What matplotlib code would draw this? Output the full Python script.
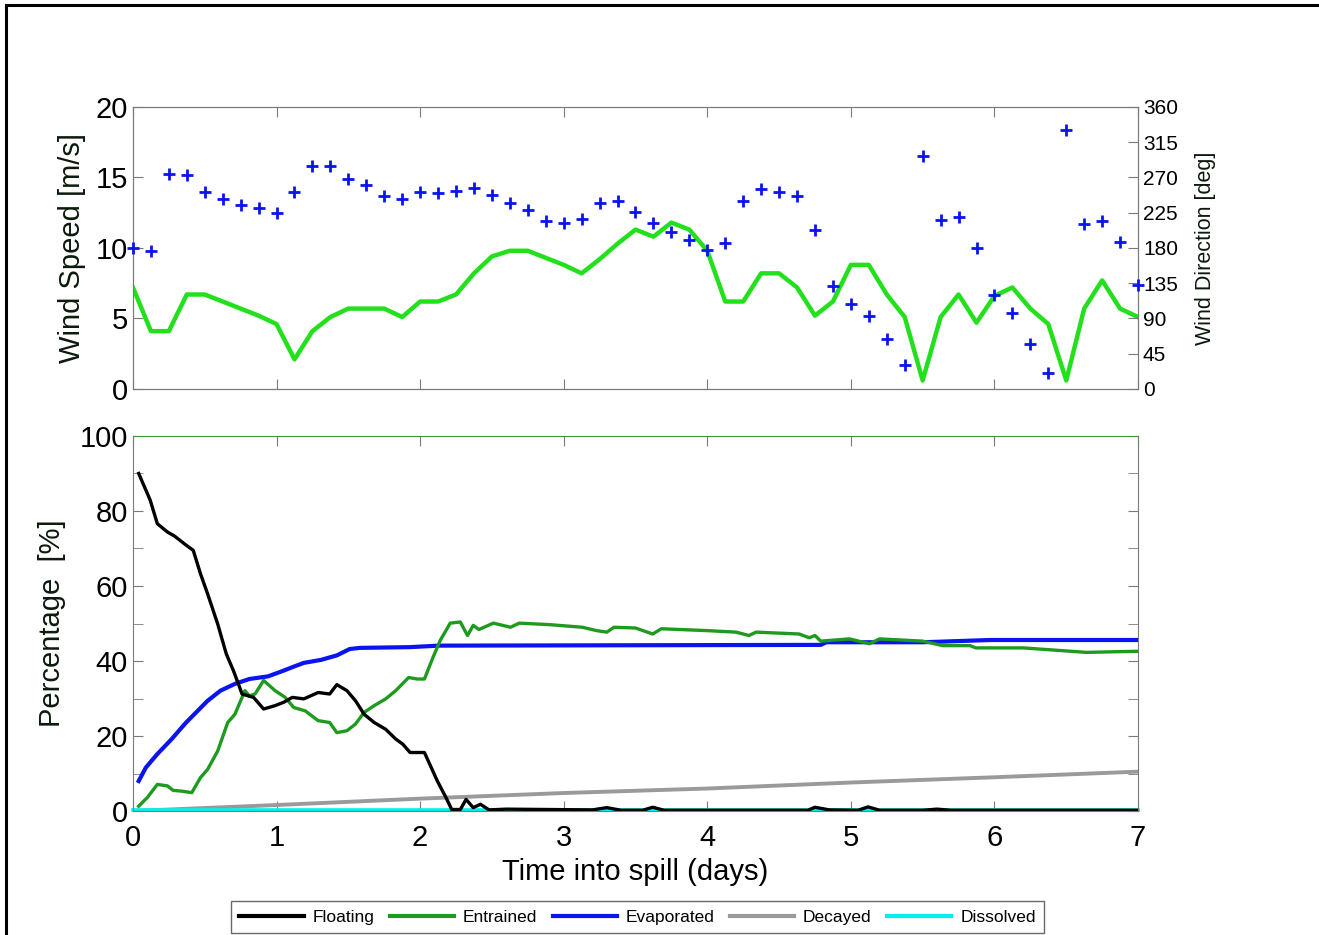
import matplotlib
matplotlib.use("Agg")
import matplotlib.pyplot as plt
from matplotlib.lines import Line2D
import numpy as np

plt.rcParams['font.family'] = ['Liberation Sans', 'DejaVu Sans']

# wind, 3-hourly
wind_t = np.arange(57) * 0.125
wind_speed = [7.2, 4.1, 4.1, 6.7, 6.7, 6.2, 5.7, 5.2, 4.6, 2.1, 4.1, 5.1, 5.7, 5.7, 5.7,
              5.1, 6.2, 6.2, 6.7, 8.2, 9.4, 9.8, 9.8, 9.3, 8.8, 8.2, 9.2, 10.3, 11.3, 10.8,
              11.8, 11.3, 9.8, 6.2, 6.2, 8.2, 8.2, 7.2, 5.2, 6.2, 8.8, 8.8, 6.7, 5.1, 0.6,
              5.1, 6.7, 4.7, 6.6, 7.2, 5.7, 4.6, 0.6, 5.7, 7.7, 5.7, 5.1]
wind_dir = [180, 176, 274, 273, 251, 242, 235, 231, 224, 252, 285, 284, 268, 261, 246,
            242, 252, 250, 253, 257, 248, 238, 228, 214, 212, 217, 237, 240, 226, 212,
            200, 190, 177, 186, 240, 255, 252, 246, 203, 132, 109, 93, 64, 31, 297,
            216, 219, 180, 120, 97, 58, 21, 330, 210, 214, 188, 133]

# oil budget
float_t = [0.04, 0.12, 0.17, 0.24, 0.29, 0.37, 0.42, 0.47, 0.52, 0.59, 0.65, 0.70, 0.76, 0.84,
           0.91, 0.99, 1.05, 1.11, 1.19, 1.29, 1.37, 1.42, 1.49, 1.55, 1.61, 1.68, 1.76, 1.83,
           1.88, 1.93, 2.03, 2.12, 2.18, 2.22, 2.28, 2.32, 2.37, 2.42, 2.48, 2.6, 3.2, 3.3,
           3.4, 3.55, 3.62, 3.7, 4.7, 4.75, 4.85, 5.05, 5.12, 5.2, 5.5, 5.6, 5.7, 7.0]
floating = [90.0, 82.9, 76.6, 74.4, 73.3, 70.9, 69.5, 63.3, 57.9, 49.9, 41.9, 37.4, 31.2, 30.3,
            27.2, 28.1, 29.0, 30.3, 29.9, 31.6, 31.2, 33.7, 32.1, 29.4, 25.8, 23.6, 21.8, 19.2,
            17.8, 15.6, 15.6, 8.0, 3.6, 0.4, 0.4, 3.1, 0.9, 1.8, 0.3, 0.5, 0.3, 0.9,
            0.2, 0.2, 1.0, 0.2, 0.2, 1.0, 0.3, 0.2, 1.1, 0.2, 0.2, 0.5, 0.2, 0.2]

entr_t = [0.04, 0.10, 0.17, 0.24, 0.28, 0.34, 0.41, 0.47, 0.52, 0.59, 0.66, 0.71, 0.78, 0.81,
          0.85, 0.91, 0.99, 1.06, 1.12, 1.20, 1.29, 1.37, 1.42, 1.49, 1.55, 1.61, 1.68, 1.76,
          1.83, 1.92, 1.98, 2.03, 2.09, 2.14, 2.21, 2.28, 2.33, 2.37, 2.41, 2.51, 2.63, 2.69,
          2.90, 3.13, 3.23, 3.30, 3.35, 3.50, 3.62, 3.68, 4.0, 4.2, 4.29, 4.34, 4.64, 4.71,
          4.75, 4.79, 4.99, 5.13, 5.2, 5.5, 5.64, 5.83, 5.87, 6.2, 6.64, 7.0]
entrained = [1.3, 3.6, 7.1, 6.7, 5.5, 5.3, 4.9, 8.9, 11.1, 16.0, 23.6, 25.8, 32.1, 30.7,
             31.2, 34.8, 32.1, 30.3, 27.6, 26.7, 24.1, 23.6, 20.9, 21.4, 23.2, 26.3, 28.1, 29.9,
             32.1, 35.6, 35.2, 35.2, 41.0, 45.5, 50.1, 50.4, 46.8, 49.5, 48.4, 50.1, 49.0, 50.1,
             49.7, 49.0, 48.1, 47.7, 49.0, 48.8, 47.2, 48.6, 48.1, 47.7, 46.8, 47.7, 47.2, 46.2,
             46.8, 45.3, 45.9, 44.6, 45.9, 45.3, 44.1, 44.1, 43.5, 43.5, 42.3, 42.6]

evap_t = [0.04, 0.09, 0.17, 0.27, 0.37, 0.44, 0.52, 0.61, 0.71, 0.81, 0.94, 1.04, 1.12,
          1.19, 1.31, 1.42, 1.51, 1.58, 1.93, 2.13, 4.79, 4.83, 5.5, 5.97, 7.0]
evaporated = [8.0, 11.6, 15.2, 19.2, 23.6, 26.3, 29.4, 32.1, 33.9, 35.2, 35.9, 37.3, 38.5,
              39.5, 40.3, 41.5, 43.2, 43.5, 43.7, 44.1, 44.3, 45.0, 45.0, 45.6, 45.6]

day_t = [0, 1, 2, 3, 4, 5, 6, 7]
decayed = [0, 1.6, 3.3, 4.8, 6.0, 7.6, 9.0, 10.5]
dissolved = [0.15, 0.15, 0.15, 0.15, 0.15, 0.15, 0.15, 0.15]

spine_c = '#7a7a7a'
txt_c = '#0c1a0c'

fig = plt.figure(figsize=(13.19, 9.35), dpi=100)

# ---- wind panel ----
ax1 = fig.add_axes([0.1008, 0.584, 0.762, 0.3016])
ax1.plot(wind_t, wind_speed, color='#22e01c', lw=3.2, zorder=3)
ax1.set_xlim(0, 7)
ax1.set_ylim(0, 20)
ax1.set_yticks([0, 5, 10, 15, 20])
ax1.set_xticks(range(8))
ax1.set_xticklabels([])
ax1.tick_params(direction='in', length=7, top=True, labelsize=21, colors=spine_c,
                labelcolor='black')
ax1.tick_params(axis='y', right=False)
ax1.set_ylabel('Wind Speed [m/s]', fontsize=21, color=txt_c, labelpad=7)
for s in ax1.spines.values():
    s.set_color(spine_c)

ax2 = ax1.twinx()
ax2.plot(wind_t, wind_dir, '+', color='#0a14f0', ms=8.5, mew=2, clip_on=False, zorder=4)
ax2.set_ylim(0, 360)
ax2.set_yticks(np.arange(0, 361, 45))
ax2.tick_params(direction='in', length=7, labelsize=15, colors=spine_c, labelcolor='black')
ax2.set_ylabel('Wind Direction [deg]', fontsize=15.5, color=txt_c, labelpad=12)
for s in ax2.spines.values():
    s.set_color(spine_c)

# ---- oil budget panel ----
ax3 = fig.add_axes([0.1008, 0.1326, 0.762, 0.4011])
ax3.plot(day_t, decayed, color='#9a9a9a', lw=2.8, label='Decayed', zorder=2)
ax3.plot(day_t, dissolved, color='#00f0f0', lw=2.6, label='Dissolved', zorder=2, clip_on=False)
ax3.plot(evap_t, evaporated, color='#0a14f0', lw=3.0, label='Evaporated', zorder=3)
ax3.plot(entr_t, entrained, color='#1e9a1e', lw=2.4, label='Entrained', zorder=4)
ax3.plot(float_t, floating, color='black', lw=2.4, label='Floating', zorder=5)
ax3.set_xlim(0, 7)
ax3.set_ylim(0, 100)
ax3.set_xticks(range(8))
ax3.set_yticks(range(0, 101, 20))
ax3.set_yticks(range(10, 100, 20), minor=True)
ax3.tick_params(which='both', direction='in', length=7, top=True, right=True,
                labelsize=21, colors=spine_c, labelcolor='black')
ax3.tick_params(axis='x', pad=9)
ax3.set_xlabel('Time into spill (days)', fontsize=21, color='black', labelpad=5)
ax3.set_ylabel('Percentage  [%]', fontsize=21, color=txt_c, labelpad=10)
for s in ax3.spines.values():
    s.set_color(spine_c)
ax3.spines['top'].set_color('#3a9a3a')

handles = [Line2D([], [], color='black', lw=3),
           Line2D([], [], color='#1e9a1e', lw=3),
           Line2D([], [], color='#0a14f0', lw=3),
           Line2D([], [], color='#9a9a9a', lw=3),
           Line2D([], [], color='#00f0f0', lw=3)]
labels = ['Floating', 'Entrained', 'Evaporated', 'Decayed', 'Dissolved']
leg = fig.legend(handles, labels, loc='upper center', bbox_to_anchor=(0.4833, 0.0364),
                 ncol=5, fontsize=12.5, frameon=True, fancybox=False, handlelength=3.7,
                 handletextpad=0.5, columnspacing=0.9, borderpad=0.5, borderaxespad=0)
leg.get_frame().set_edgecolor('#444444')
leg.get_frame().set_linewidth(1.0)

# figure border (left and top)
fig.add_artist(Line2D([0.0048, 0.0048], [0, 0.9946], color='black', lw=2.2,
                      transform=fig.transFigure))
fig.add_artist(Line2D([0.0048, 1.0], [0.9946, 0.9946], color='black', lw=2.2,
                      transform=fig.transFigure))

fig.savefig('out.png', dpi=100)
